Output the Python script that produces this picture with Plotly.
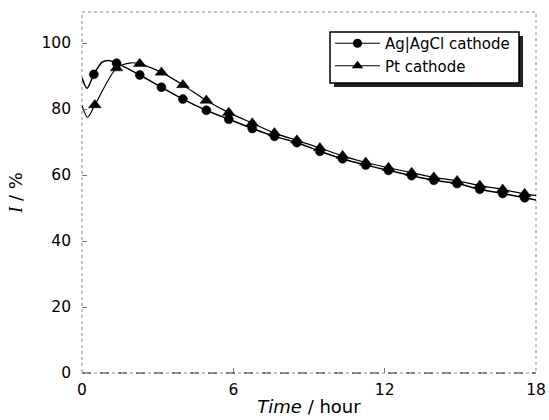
import plotly.graph_objects as go

# Ag|AgCl cathode: curve points (marker points + a few curve-only points)
ag_time = [0.0, 0.2, 0.47, 0.8, 1.05, 1.37, 2.29, 3.15, 4.0, 4.93, 5.82, 6.75, 7.63,
           8.52, 9.43, 10.33, 11.25, 12.15, 13.07, 13.95, 14.87, 15.77, 16.68, 17.55, 18.0]
ag_val = [89.5, 86.3, 90.5, 94.2, 94.7, 93.9, 90.3, 86.6, 83.0, 79.6, 76.9, 74.1, 71.7,
          69.8, 67.2, 64.9, 63.0, 61.4, 59.8, 58.4, 57.4, 55.7, 54.4, 53.1, 52.4]
ag_is_marker = [0, 0, 1, 0, 0, 1, 1, 1, 1, 1, 1, 1, 1,
                1, 1, 1, 1, 1, 1, 1, 1, 1, 1, 1, 0]

# Pt cathode
pt_time = [0.0, 0.22, 0.51, 1.37, 1.95, 2.29, 3.15, 4.0, 4.93, 5.82, 6.75, 7.63,
           8.52, 9.43, 10.33, 11.25, 12.15, 13.07, 13.95, 14.87, 15.77, 16.68, 17.55, 18.0]
pt_val = [81.0, 77.5, 81.2, 92.4, 94.0, 93.7, 91.1, 87.3, 82.6, 78.9, 75.7, 72.7,
          70.5, 68.2, 65.8, 63.8, 62.2, 60.7, 59.3, 58.2, 56.8, 55.6, 54.3, 53.8]
pt_is_marker = [0, 0, 1, 1, 0, 1, 1, 1, 1, 1, 1, 1,
                1, 1, 1, 1, 1, 1, 1, 1, 1, 1, 1, 0]

series_names = ["Ag|AgCl cathode", "Pt cathode"]
x_ticks = [0, 6, 12, 18]
y_ticks = [0, 20, 40, 60, 80, 100]

# plot-area pixel geometry (for paper-coordinate decorations)
L, R, T, B = 82, 536, 12, 373
def px(x): return (x - L) / (R - L)
def py(y): return (B - y) / (B - T)

fig = go.Figure()
fig.add_trace(go.Scatter(
    x=ag_time, y=ag_val, mode="lines+markers", name=series_names[0], showlegend=False,
    line=dict(color="black", width=1.5, shape="spline", smoothing=0.8),
    marker=dict(symbol="circle", color="black", opacity=1,
                size=[9 if m else 0 for m in ag_is_marker], line=dict(width=0.5, color="black")),
))
fig.add_trace(go.Scatter(
    x=pt_time, y=pt_val, mode="lines+markers", name=series_names[1], showlegend=False,
    line=dict(color="black", width=1.2, shape="spline", smoothing=0.8),
    marker=dict(symbol="triangle-up", color="black", opacity=1,
                size=[11 if m else 0 for m in pt_is_marker], line=dict(width=0.5, color="black")),
))
# legend entries
fig.add_trace(go.Scatter(x=[None], y=[None], mode="lines+markers", name=series_names[0],
                         line=dict(color="black", width=1),
                         marker=dict(symbol="circle", color="black", size=9)))
fig.add_trace(go.Scatter(x=[None], y=[None], mode="lines+markers", name=series_names[1],
                         line=dict(color="black", width=1),
                         marker=dict(symbol="triangle-up", color="black", size=10)))

# dotted frame
fig.add_shape(type="rect", xref="paper", yref="paper", x0=0, x1=1, y0=0, y1=1,
              line=dict(color="#888", width=1, dash="dot"), layer="below")
fig.add_shape(type="line", xref="paper", yref="paper", x0=0, x1=1, y0=0, y1=0,
              line=dict(color="#333", width=1, dash="dash"))
# legend shadow + box
fig.add_shape(type="rect", xref="paper", yref="paper",
              x0=px(334), x1=px(523), y0=py(87), y1=py(36),
              line=dict(width=0), fillcolor="#222", layer="above")
fig.add_shape(type="rect", xref="paper", yref="paper",
              x0=px(330), x1=px(519), y0=py(83), y1=py(32),
              line=dict(width=1.5, color="black"), fillcolor="white", layer="above")

fig.update_layout(
    width=549, height=420,
    margin=dict(l=L, r=549 - R, t=T, b=420 - B),
    paper_bgcolor="white", plot_bgcolor="white",
    font=dict(family="DejaVu Sans", size=15.5, color="black"),
    showlegend=True,
    legend=dict(x=px(330), y=py(27), xanchor="left", yanchor="top",
                bgcolor="rgba(0,0,0,0)", borderwidth=0,
                font=dict(size=15, family="DejaVu Sans"),
                itemwidth=45),
    xaxis=dict(range=[0, 18], tickvals=x_ticks, ticktext=[str(v) for v in x_ticks],
               showgrid=False, zeroline=False, showline=False, automargin=False,
               ticks="inside", ticklen=5, tickcolor="#777", ticklabelstandoff=5,
               title=dict(text="<i>Time</i> / hour", font=dict(size=18), standoff=2)),
    yaxis=dict(range=[0, 109.4], tickvals=y_ticks, ticktext=[str(v) for v in y_ticks],
               showgrid=False, zeroline=False, showline=False, automargin=False,
               ticks="inside", ticklen=5, tickcolor="#777", ticklabelstandoff=10,
               title=dict(text="<span style=\"font-family:'Liberation Serif'\"><i>I</i></span> / %",
                          font=dict(size=18), standoff=14)),
)

fig.write_html("out.html")
